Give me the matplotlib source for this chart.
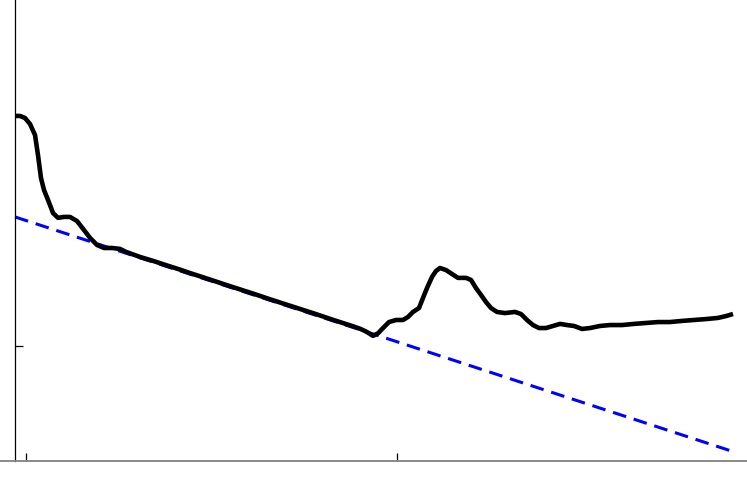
import matplotlib
matplotlib.use("Agg")
import matplotlib.pyplot as plt

# measured curve (x ticks at 0 and 100, y ticks at 0 and 1)
curve_x = [-2.96, -1.62, -0.27, 1.08, 2.43, 3.23, 4.04, 4.85, 5.93, 7.28, 8.63,
           10.24, 11.86, 13.75, 15.63, 17.25, 19.14, 21.02, 23.18, 25.34, 26.95,
           28.84, 30.73, 34.23, 38.01, 41.51, 44.20, 46.90, 50.13, 53.64, 57.68,
           61.73, 65.77, 69.81, 73.85, 77.90, 81.94, 85.18, 87.87, 90.03, 91.64,
           93.53, 94.88, 96.23, 97.84, 99.73, 101.62, 102.96, 104.31, 105.93,
           107.01, 108.09, 109.43, 110.51, 111.59, 113.21, 114.82, 116.44, 118.60,
           119.95, 121.29, 122.64, 123.99, 125.34, 126.95, 129.11, 131.81, 133.42,
           135.04, 136.66, 138.27, 140.16, 142.05, 143.94, 145.82, 147.71, 149.87,
           152.02, 154.72, 157.41, 160.65, 163.88, 167.12, 170.35, 173.58, 176.82,
           180.05, 183.29, 186.52, 188.68, 190.57]
curve_y = [1.000, 1.000, 0.991, 0.965, 0.917, 0.830, 0.730, 0.678, 0.635, 0.578,
           0.557, 0.561, 0.561, 0.543, 0.504, 0.470, 0.439, 0.426, 0.426, 0.422,
           0.409, 0.398, 0.387, 0.370, 0.350, 0.332, 0.317, 0.303, 0.286, 0.267,
           0.246, 0.225, 0.203, 0.182, 0.161, 0.140, 0.118, 0.101, 0.087, 0.075,
           0.063, 0.044, 0.055, 0.078, 0.104, 0.113, 0.113, 0.126, 0.148, 0.165,
           0.209, 0.252, 0.300, 0.326, 0.339, 0.330, 0.313, 0.296, 0.296, 0.287,
           0.252, 0.222, 0.191, 0.165, 0.148, 0.143, 0.148, 0.139, 0.113, 0.091,
           0.078, 0.078, 0.087, 0.096, 0.091, 0.087, 0.074, 0.078, 0.087, 0.091,
           0.091, 0.096, 0.100, 0.104, 0.104, 0.109, 0.113, 0.117, 0.122, 0.130,
           0.139]

# fitted straight line
fit_x = [-2.96, 190.57]
fit_y = [0.561, -0.459]

x_ticks = [0, 100]
y_ticks = [0, 1]

fig = plt.figure(figsize=(7.47, 4.88), dpi=100)
ax = fig.add_axes([0, 27 / 488, 1, 461 / 488])
ax.set_xlim(-7.01, 194.34)
ax.set_ylim(-0.5, 1.504)

ax.plot(fit_x, fit_y, color='#0000ff', linewidth=2.2, dashes=(4.5, 2.6), zorder=2)
ax.plot(curve_x, curve_y, color='black', linewidth=3.3, solid_joinstyle='round',
        solid_capstyle='butt', zorder=3)

for s in ['top', 'right']:
    ax.spines[s].set_visible(False)
ax.spines['left'].set_position(('data', -2.96))
ax.spines['left'].set_color('black')
ax.spines['left'].set_linewidth(0.9)
ax.spines['bottom'].set_color('#808080')
ax.spines['bottom'].set_linewidth(1.3)

ax.set_xticks(x_ticks)
ax.set_yticks(y_ticks)
ax.set_xticklabels([])
ax.set_yticklabels([])
ax.tick_params(direction='in', length=6, width=0.9, color='black')

fig.savefig('out.png', dpi=100)
